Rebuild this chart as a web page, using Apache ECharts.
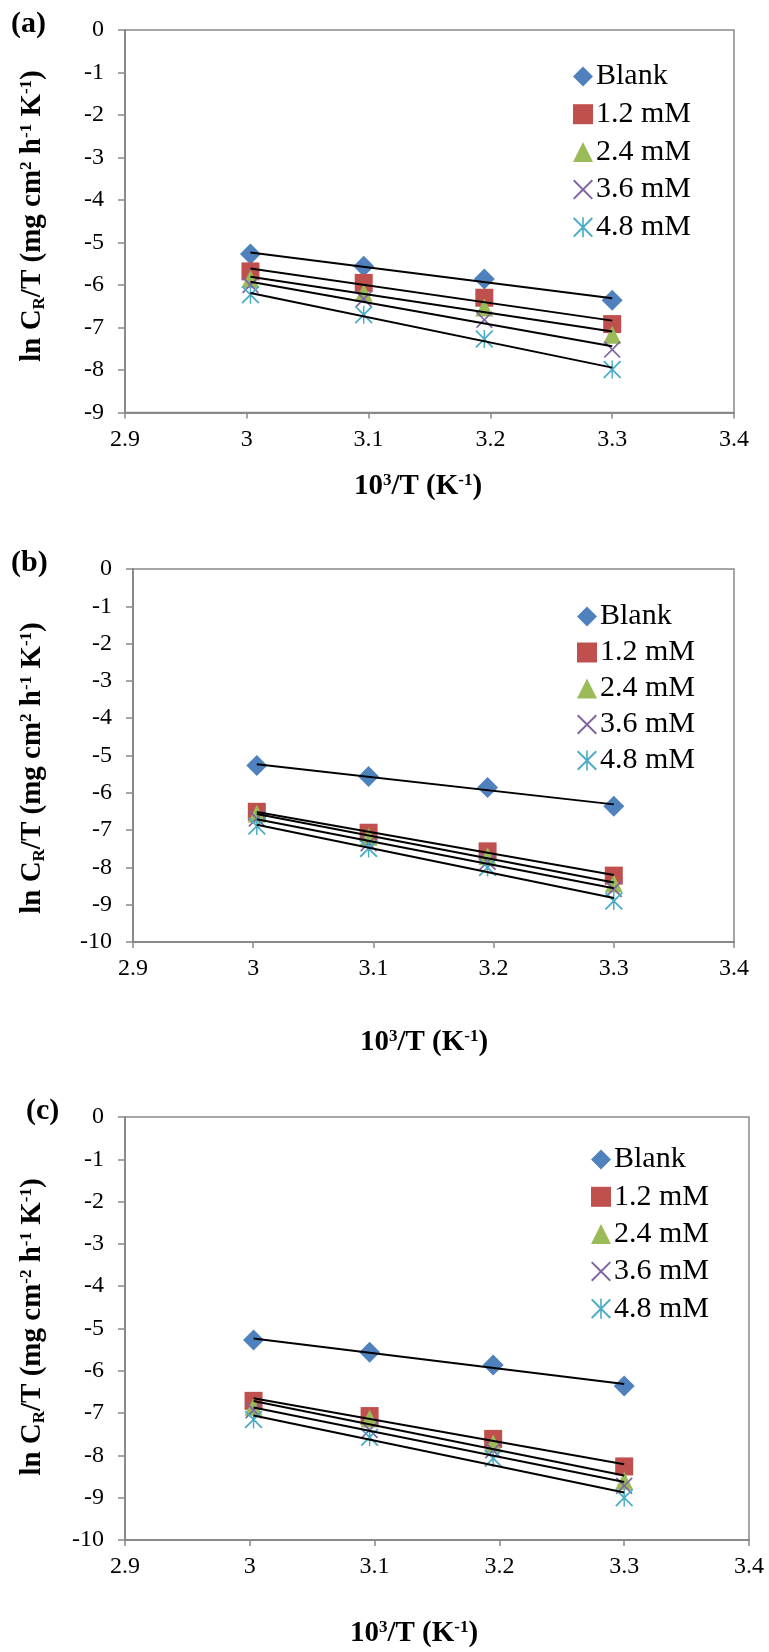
<!DOCTYPE html>
<html>
<head>
<meta charset="utf-8">
<title>Arrhenius plots</title>
<script src="https://cdn.jsdelivr.net/npm/echarts@6.0.0/dist/echarts.min.js"></script>
<style>
  html, body { margin: 0; padding: 0; background: #ffffff; }
  #chart { width: 769px; height: 1652px; }
</style>
</head>
<body>
<div id="chart"></div>
<script>
// 10^3/T values (T = 333, 323, 313, 303 K)
const xValues = [3.003, 3.096, 3.195, 3.300];
const seriesNames = ['Blank', '1.2 mM', '2.4 mM', '3.6 mM', '4.8 mM'];

// ln(CR/T) for the uninhibited solution (same in every panel)
const blankValues = [-5.27, -5.56, -5.86, -6.36];

// Panel (a)
const a12 = [-5.68, -5.95, -6.30, -6.92];
const a24 = [-5.86, -6.18, -6.53, -7.17];
const a36 = [-6.00, -6.33, -6.82, -7.52];
const a48 = [-6.23, -6.70, -7.27, -7.99];

// Panel (b)
const b12 = [-6.51, -7.07, -7.57, -8.22];
const b24 = [-6.56, -7.18, -7.70, -8.43];
const b36 = [-6.69, -7.35, -7.85, -8.58];
const b48 = [-6.89, -7.49, -8.00, -8.90];

// Panel (c)
const c12 = [-6.71, -7.07, -7.61, -8.26];
const c24 = [-6.85, -7.13, -7.72, -8.60];
const c36 = [-6.93, -7.40, -7.88, -8.72];
const c48 = [-7.15, -7.57, -8.07, -9.00];

// Axis ranges / tick labels
const xAxisRange = [2.9, 3.4, 0.1];
const yAxisMinA = -9;
const yAxisMinBC = -10;

const panelLabels = ['(a)', '(b)', '(c)'];
const panelValues = [
  [blankValues, a12, a24, a36, a48],
  [blankValues, b12, b24, b36, b48],
  [blankValues, c12, c24, c36, c48]
];
const panelYMin = [yAxisMinA, yAxisMinBC, yAxisMinBC];

// ---- styling / layout ----
const FONT = '"Liberation Serif", "Times New Roman", serif';
const AXIS_GRAY = '#898989';
const colors = ['#4F81BD', '#C0504D', '#9BBB59', '#8064A2', '#4BACC6'];

const crossPath = 'path://M0,7 L7,0 L50,43 L93,0 L100,7 L57,50 L100,93 L93,100 L50,57 L7,100 L0,93 L43,50 Z';
const starPath = 'path://M0,7 L7,0 L50,43 L93,0 L100,7 L57,50 L100,93 L93,100 L50,57 L7,100 L0,93 L43,50 Z M46,0 L54,0 L54,100 L46,100 Z';
const symbols = ['diamond', 'rect', 'triangle', crossPath, starPath];
const symbolSizes = [21, 18, 18, 17, 18];

const layouts = [
  { left: 125, top: 30, width: 609, height: 382.5,
    legend: { left: 568, top: 56, gap: 6.7 },
    label: { x: 11, y: 24 }, xTitle: { x: 418, y: 487 }, yTitle: { x: 33, y: 216 } },
  { left: 133, top: 569, width: 601, height: 373,
    legend: { left: 572, top: 596, gap: 5 },
    label: { x: 11, y: 563 }, xTitle: { x: 424, y: 1043 }, yTitle: { x: 33, y: 768 } },
  { left: 125, top: 1117, width: 624, height: 423,
    legend: { left: 586, top: 1139, gap: 6.3 },
    label: { x: 26, y: 1111 }, xTitle: { x: 414, y: 1634 }, yTitle: { x: 33, y: 1327 } }
];

const yTitles = [
  'ln C{sub|R}/T (mg cm{sup|2} h{sup|-1} K{sup|-1})',
  'ln C{sub|R}/T (mg cm{sup|2} h{sup|-1} K{sup|-1})',
  'ln C{sub|R}/T (mg cm{sup|-2} h{sup|-1} K{sup|-1})'
];
const xTitle = '10{sup|3}/T (K{sup|-1})';

const richTitle = {
  sup: { fontSize: 17, fontFamily: FONT, fontWeight: 'bold', lineHeight: 14, verticalAlign: 'top', fill: '#000' },
  sub: { fontSize: 17, fontFamily: FONT, fontWeight: 'bold', lineHeight: 14, verticalAlign: 'bottom', fill: '#000' }
};

// least-squares straight line through the points of one series
function linearFit(xs, ys) {
  const n = xs.length;
  const mx = xs.reduce((s, v) => s + v, 0) / n;
  const my = ys.reduce((s, v) => s + v, 0) / n;
  let sxy = 0, sxx = 0;
  for (let i = 0; i < n; i++) {
    sxy += (xs[i] - mx) * (ys[i] - my);
    sxx += (xs[i] - mx) * (xs[i] - mx);
  }
  const slope = sxy / sxx;
  return x => my + slope * (x - mx);
}

const grids = [], xAxes = [], yAxes = [], series = [], legends = [], graphics = [];

layouts.forEach((L, p) => {
  grids.push({
    left: L.left, top: L.top, width: L.width, height: L.height,
    show: true, borderColor: AXIS_GRAY, borderWidth: 1.5, backgroundColor: 'transparent'
  });
  xAxes.push({
    type: 'value', gridIndex: p,
    min: xAxisRange[0], max: xAxisRange[1], interval: xAxisRange[2],
    axisLine: { show: true, onZero: false, lineStyle: { color: AXIS_GRAY, width: 2 } },
    axisTick: { show: true, inside: false, length: 6, lineStyle: { color: AXIS_GRAY, width: 1.5 } },
    splitLine: { show: false },
    axisLabel: {
      margin: 15, color: '#000', fontFamily: FONT, fontSize: 24,
      formatter: v => String(parseFloat(v.toFixed(2)))
    }
  });
  yAxes.push({
    type: 'value', gridIndex: p,
    min: panelYMin[p], max: 0, interval: 1,
    axisLine: { show: true, onZero: false, lineStyle: { color: AXIS_GRAY, width: 2 } },
    axisTick: { show: true, inside: false, length: 7, lineStyle: { color: AXIS_GRAY, width: 1.5 } },
    splitLine: { show: false },
    axisLabel: {
      margin: 21, color: '#000', fontFamily: FONT, fontSize: 24,
      formatter: v => String(Math.round(v))
    }
  });

  panelValues[p].forEach((vals, j) => {
    series.push({
      type: 'scatter', name: seriesNames[j],
      xAxisIndex: p, yAxisIndex: p,
      data: xValues.map((x, k) => [x, vals[k]]),
      symbol: symbols[j], symbolSize: symbolSizes[j],
      itemStyle: { color: colors[j], opacity: 1 },
      z: 2
    });
  });

  // linear trend lines, drawn over the markers
  panelValues[p].forEach((vals, j) => {
    const f = linearFit(xValues, vals);
    const x0 = xValues[0], x1 = xValues[xValues.length - 1];
    series.push({
      type: 'line', name: 'trend ' + panelLabels[p] + ' ' + seriesNames[j],
      xAxisIndex: p, yAxisIndex: p,
      data: [[x0, f(x0)], [x1, f(x1)]],
      symbol: 'none', silent: true,
      lineStyle: { color: '#000', width: 2 },
      z: 3
    });
  });

  legends.push({
    data: seriesNames.slice(),
    orient: 'vertical',
    left: L.legend.left, top: L.legend.top,
    itemWidth: 20, itemHeight: 20, itemGap: L.legend.gap,
    selectedMode: false,
    textStyle: { fontFamily: FONT, fontSize: 30, color: '#000', lineHeight: 31, padding: [0, 0, 0, -2] }
  });

  graphics.push({
    type: 'text', x: L.label.x, y: L.label.y,
    style: { text: panelLabels[p], fontFamily: FONT, fontWeight: 'bold', fontSize: 30,
             fill: '#000', align: 'left', verticalAlign: 'middle' }
  });
  graphics.push({
    type: 'text', x: L.xTitle.x, y: L.xTitle.y,
    style: { text: xTitle, fontFamily: FONT, fontWeight: 'bold', fontSize: 29, lineHeight: 30,
             fill: '#000', align: 'center', verticalAlign: 'middle', rich: richTitle }
  });
  graphics.push({
    type: 'text', x: L.yTitle.x, y: L.yTitle.y, rotation: Math.PI / 2,
    style: { text: yTitles[p], fontFamily: FONT, fontWeight: 'bold', fontSize: 29, lineHeight: 30,
             fill: '#000', align: 'center', verticalAlign: 'middle', rich: richTitle }
  });
});

const chart = echarts.init(document.getElementById('chart'), null, { renderer: 'canvas' });
chart.setOption({
  backgroundColor: '#ffffff',
  animation: false,
  grid: grids,
  xAxis: xAxes,
  yAxis: yAxes,
  legend: legends,
  series: series,
  graphic: graphics
});
</script>
</body>
</html>
